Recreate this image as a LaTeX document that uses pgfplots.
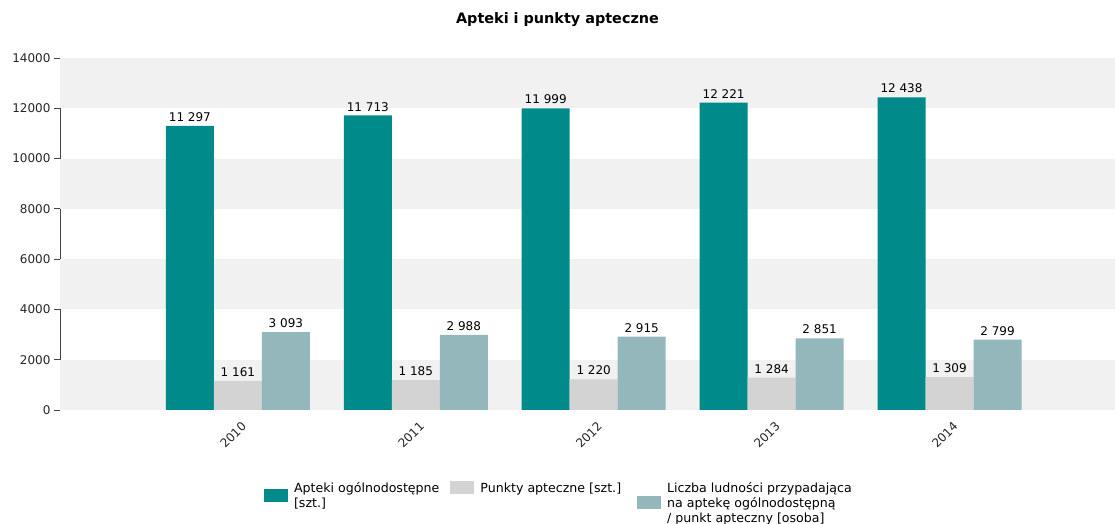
\documentclass[border=0pt]{standalone}
\usepackage{fontspec}
\setmainfont{DejaVu Sans}
\usepackage{pgfplots}
\pgfplotsset{compat=1.18}
\definecolor{cA}{HTML}{008B8A}
\definecolor{cB}{HTML}{D3D3D3}
\definecolor{cC}{HTML}{93B7BB}
\definecolor{band}{HTML}{F1F1F1}
\definecolor{axc}{HTML}{444444}
\begin{document}
\begin{tikzpicture}[x=1pt,y=1pt]
\useasboundingbox (0,0) rectangle (1115,524);
\node[font=\bfseries\fontsize{14.4}{16}\selectfont] at (557.5,504) {Apteki i punkty apteczne};
\begin{axis}[
  at={(60pt,114pt)}, anchor=south west,
  scale only axis, width=1055pt, height=352pt,
  xmin=-1, xmax=4.93, ymin=0, ymax=14000,
  ybar, bar width=48pt,
  axis x line*=bottom, axis y line*=left,
  axis line style={axc, line width=1pt},
  xtick={0,1,2,3,4},
  xticklabels={2010,2011,2012,2013,2014},
  x tick style={draw=none},
  ytick={0,2000,4000,6000,8000,10000,12000,14000},
  scaled y ticks=false,
  y tick style={axc, line width=0.8pt},
  tick align=outside, major tick length=6pt,
  /pgf/number format/assume math mode=true,
  yticklabel={\pgfmathprintnumber[1000 sep={}]{\tick}},
  tick label style={font=\fontsize{12}{14}\selectfont, color=black!85},
  xticklabel style={rotate=45, anchor=north east, xshift=2pt, yshift=-2pt},
  nodes near coords={\pgfmathprintnumber[1000 sep={\ }]{\pgfplotspointmeta}},
  nodes near coords style={font=\fontsize{12}{14}\selectfont, color=black, inner sep=4pt},
  legend columns=3,
  legend cell align=left,
  legend style={at={(0.1934,-0.203)}, anchor=north west, draw=none, fill=none,
    inner sep=0pt, outer sep=0pt,
    font=\fontsize{12.6}{15}\selectfont,
    nodes={inner sep=0pt},
    /tikz/every odd column/.append style={column sep=6pt},
    /tikz/every even column/.append style={column sep=11pt}},
  clip=false,
]
\fill[band] (axis cs:-1,0) rectangle (axis cs:4.93,2000);
\fill[band] (axis cs:-1,4000) rectangle (axis cs:4.93,6000);
\fill[band] (axis cs:-1,8000) rectangle (axis cs:4.93,10000);
\fill[band] (axis cs:-1,12000) rectangle (axis cs:4.93,14000);
\addplot[fill=cA, draw=none, bar shift=-48pt,
  legend image code/.code={\fill[cA] (0pt,-6.5pt) rectangle (24pt,6.5pt);}]
  coordinates {(0,11297) (1,11713) (2,11999) (3,12221) (4,12438)};
\addplot[fill=cB, draw=none, bar shift=0pt,
  legend image code/.code={\fill[cB] (0pt,1pt) rectangle (24pt,14pt);}]
  coordinates {(0,1161) (1,1185) (2,1220) (3,1284) (4,1309)};
\addplot[fill=cC, draw=none, bar shift=48pt,
  legend image code/.code={\fill[cC] (0pt,-14pt) rectangle (24pt,-1pt);}]
  coordinates {(0,3093) (1,2988) (2,2915) (3,2851) (4,2799)};
\addlegendentry{\begin{tabular}{@{}l@{}}Apteki ogólnodostępne\\{[szt.]}\\\mbox{}\end{tabular}}
\addlegendentry{\begin{tabular}{@{}l@{}}Punkty apteczne [szt.]\kern5pt\\\mbox{}\\\mbox{}\end{tabular}}
\addlegendentry{\begin{tabular}{@{}l@{}}Liczba ludności przypadająca\\na aptekę ogólnodostępną\\{/ punkt apteczny [osoba]}\end{tabular}}
\end{axis}
\end{tikzpicture}
\end{document}
